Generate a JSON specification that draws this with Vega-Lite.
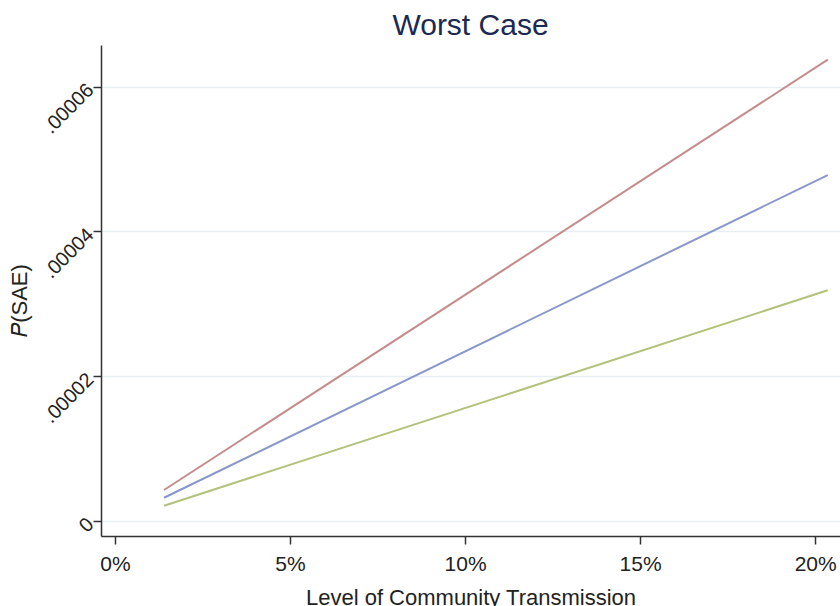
{
  "$schema": "https://vega.github.io/schema/vega-lite/v6.json",
  "autosize": "none",
  "width": 739,
  "height": 491,
  "padding": {"left": 101, "top": 45, "right": 0, "bottom": 70},
  "background": "white",
  "title": {
    "text": "Worst Case",
    "font": "Liberation Sans",
    "fontSize": 30,
    "fontWeight": "normal",
    "color": "#1a2a52",
    "anchor": "middle",
    "offset": 4
  },
  "config": {
    "view": {"stroke": null},
    "font": "Liberation Sans"
  },
  "data": {
    "values": [
      {"level": 1.4, "p": 0.00000428, "series": "high"},
      {"level": 20.36, "p": 0.00006372, "series": "high"},
      {"level": 1.4, "p": 0.00000321, "series": "mid"},
      {"level": 20.36, "p": 0.00004779, "series": "mid"},
      {"level": 1.4, "p": 0.00000211, "series": "low"},
      {"level": 20.36, "p": 0.00003187, "series": "low"}
    ]
  },
  "mark": {"type": "line", "strokeWidth": 2, "clip": true},
  "encoding": {
    "x": {
      "field": "level",
      "type": "quantitative",
      "scale": {"domain": [-0.4, 20.71], "nice": false, "zero": false},
      "axis": {
        "values": [0, 5, 10, 15, 20],
        "labelExpr": "datum.value + '%'",
        "title": "Level of Community Transmission",
        "titleFont": "Liberation Sans",
        "titleFontSize": 22,
        "titleFontWeight": "normal",
        "titleColor": "#222222",
        "titlePadding": 13,
        "labelFont": "Liberation Sans",
        "labelFontSize": 21,
        "labelColor": "#222222",
        "labelPadding": 9,
        "grid": false,
        "domainColor": "#333333",
        "domainWidth": 1.5,
        "tickColor": "#333333",
        "tickWidth": 1.5,
        "tickSize": 8
      }
    },
    "y": {
      "field": "p",
      "type": "quantitative",
      "scale": {"domain": [-0.00000207, 0.00006575], "nice": false, "zero": false},
      "axis": {
        "values": [0, 0.00002, 0.00004, 0.00006],
        "labelExpr": "datum.value == 0 ? '0' : replace(format(datum.value, '.5f'), '0.', '.')",
        "labelAngle": -45,
        "labelAlign": "right",
        "labelBaseline": "middle",
        "labelFont": "Liberation Sans",
        "labelFontSize": 20,
        "labelColor": "#222222",
        "labelPadding": 3,
        "title": "𝑃(SAE)",
        "titleFont": "Liberation Sans",
        "titleFontSize": 22,
        "titleFontWeight": "normal",
        "titleColor": "#222222",
        "titleX": -70,
        "titleY": 255,
        "grid": true,
        "gridColor": "#e6eff1",
        "gridWidth": 1.5,
        "domainColor": "#333333",
        "domainWidth": 1.5,
        "tickColor": "#333333",
        "tickWidth": 1.5,
        "tickSize": 8
      }
    },
    "color": {
      "field": "series",
      "type": "nominal",
      "scale": {"domain": ["high", "mid", "low"], "range": ["#c48d8b", "#8797c9", "#b2c27c"]},
      "legend": null
    }
  }
}
